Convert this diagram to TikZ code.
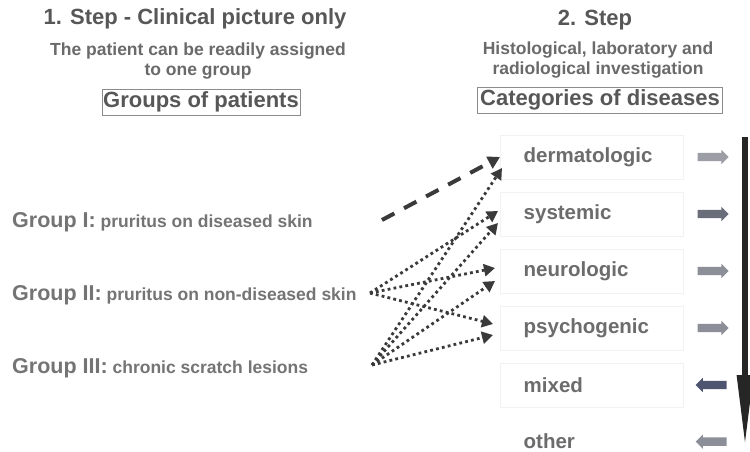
\documentclass[tikz,border=0pt]{standalone}
\usepackage{fontspec}
\setmainfont{Liberation Sans}
\usetikzlibrary{positioning,calc,arrows.meta,shapes.arrows}

\definecolor{headgray}{HTML}{575757}
\definecolor{subgray}{HTML}{6A6A6A}
\definecolor{catgray}{HTML}{6C6C6C}
\definecolor{groupgray}{HTML}{747474}
\definecolor{linkgray}{HTML}{3A3A3A}
\definecolor{arrowlight}{HTML}{9C9EA5}
\definecolor{arrowdark}{HTML}{6A6E7A}
\definecolor{arrowmid}{HTML}{8C8F98}
\definecolor{arrowblue}{HTML}{4E5571}

\begin{document}
\begin{tikzpicture}[
    x=1pt, y=-1pt,
    node distance=12.6pt,
    title/.style={font=\fontsize{22}{26}\selectfont\bfseries, text=headgray, inner sep=0pt},
    subtitle/.style={font=\fontsize{17.5}{20.5}\selectfont\bfseries, text=subgray, align=center, inner sep=0pt},
    headbox/.style={draw=black!45, line width=0.8pt, font=\fontsize{22}{26}\selectfont\bfseries, text=headgray, inner sep=0pt, minimum height=26pt},
    catbox/.style={draw=black!5, text width=136pt, align=left, inner xsep=23.5pt, minimum height=44pt, font=\fontsize{20.5}{24}\selectfont\bfseries, text=catgray},
    grouplabel/.style={anchor=west, inner sep=0pt, text=groupgray, font=\fontsize{17.5}{21}\selectfont\bfseries},
    sidearrow/.style={single arrow, single arrow head extend=3pt, single arrow head indent=0pt, inner sep=4pt, minimum height=31pt, draw=none},
    dashedlink/.style={draw=linkgray, line width=4pt, dash pattern=on 14pt off 11pt, -{Triangle[length=12pt,width=13pt]}},
    dottedlink/.style={draw=linkgray, line width=2.8pt, dash pattern=on 2.8pt off 3.2pt, -{Triangle[length=11pt,width=12pt]}}
]
    \fill[white] (0,0) rectangle (750,452);
    \useasboundingbox (0,0) rectangle (750,452);

    % step 1
    \node[title] (step1) at (195,19) {1. Step - Clinical picture only};
    \node[subtitle] (patient) at (198,61) {The patient can be readily assigned\\to one group};
    \node[headbox, minimum width=198pt] (groups) at (201,102) {Groups of patients};

    % step 2
    \node[title] (step2) at (595,20) {2. Step};
    \node[subtitle] (investigation) at (598,60) {Histological, laboratory and\\radiological investigation};
    \node[headbox, minimum width=245pt] (categories) at (600,100) {Categories of diseases};

    % categories
    \node[catbox, anchor=west] (dermatologic) at (500,157) {dermatologic};
    \node[catbox, below=of dermatologic] (systemic) {systemic};
    \node[catbox, below=of systemic] (neurologic) {neurologic};
    \node[catbox, below=of neurologic] (psychogenic) {psychogenic};
    \node[catbox, below=of psychogenic] (mixed) {mixed};
    \node[catbox, draw=none, minimum height=0pt] (other) at ($(mixed)+(0,56.6)$) {other};

    \node[sidearrow, fill=arrowlight, right=14pt of dermatologic] (dermout) {};
    \node[sidearrow, fill=arrowdark, right=14pt of systemic] (sysout) {};
    \node[sidearrow, fill=arrowmid, right=14pt of neurologic] (neuroout) {};
    \node[sidearrow, fill=arrowmid, right=14pt of psychogenic] (psychout) {};
    \node[sidearrow, fill=arrowblue, shape border rotate=180, right=12pt of mixed] (mixedin) {};
    \node[sidearrow, fill=arrowmid, shape border rotate=180, right=12pt of other.east -| mixed.east, anchor=west] (otherin) {};

    \coordinate (flowtop) at (745,137);
    \coordinate (flowbottom) at (745,447);
    \draw[line width=6pt, draw=black!85, -{Triangle[length=72pt,width=15pt]}] (flowtop) -- (flowbottom);

    % groups
    \node[grouplabel] (group1) at (12,222) {{\fontsize{21.5}{24}\selectfont Group I:} pruritus on diseased skin};
    \node[grouplabel] (group2) at (12,295) {{\fontsize{21.5}{24}\selectfont Group II:} pruritus on non-diseased skin};
    \node[grouplabel] (group3) at (12,368) {{\fontsize{21.5}{24}\selectfont Group III:} chronic scratch lesions};

    \coordinate (g1out) at (382,220);
    \coordinate (g2out) at (370,293);
    \coordinate (g3out) at (372,365);

    \draw[dashedlink] (g1out) -- (dermatologic.west);
    \foreach \cat/\dx/\dy in {systemic/-2/-3, neurologic/-5/-3, psychogenic/-7/-4}
        \draw[dottedlink] (g2out) -- ($(\cat.west)+(\dx,\dy)$);
    \foreach \cat/\dx/\dy in {dermatologic/2/11, systemic/-2/9, neurologic/-5/10, psychogenic/-7/7}
        \draw[dottedlink] (g3out) -- ($(\cat.west)+(\dx,\dy)$);
\end{tikzpicture}
\end{document}
